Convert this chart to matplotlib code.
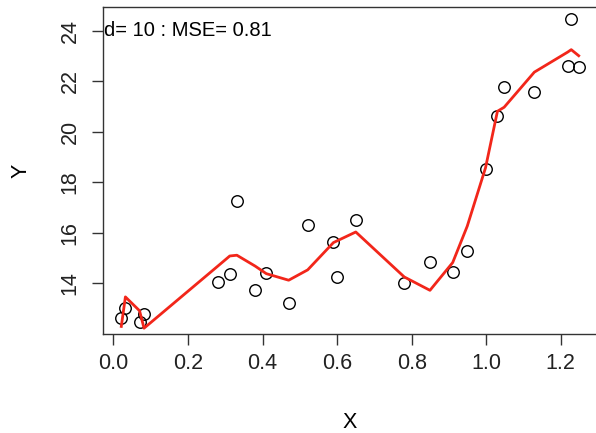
import numpy as np
import matplotlib.pyplot as plt

plt.rcParams['font.family'] = ['Liberation Sans', 'DejaVu Sans']

# observed points
x_obs = [0.021, 0.032, 0.070, 0.082, 0.280, 0.312, 0.331, 0.380, 0.410, 0.470,
         0.521, 0.590, 0.600, 0.650, 0.780, 0.849, 0.910, 0.949, 0.998, 1.030,
         1.048, 1.129, 1.218, 1.228, 1.248]
y_obs = [12.64, 13.01, 12.47, 12.80, 14.03, 14.36, 17.25, 13.74, 14.40, 13.22,
         16.29, 15.65, 14.24, 16.50, 14.01, 14.83, 14.46, 15.26, 18.51, 20.64,
         21.77, 21.57, 22.60, 24.46, 22.57]

# fitted polynomial (degree 10) at the observed x values
y_fit = [12.29, 13.46, 12.91, 12.22, 14.68, 15.08, 15.11, 14.68, 14.38, 14.12,
         14.53, 15.61, 15.68, 16.03, 14.25, 13.72, 14.82, 16.26, 18.57, 20.81,
         20.97, 22.36, 23.15, 23.25, 23.01]

label = "d= 10 : MSE= 0.81"

fig = plt.figure(figsize=(5.96, 4.33), dpi=100)
ax = fig.add_axes([103/596, 1 - 334/433, 494/596, 327/433])

ax.plot(x_obs, y_obs, 'o', mfc='none', mec='black', ms=8.3, mew=1.0)
ax.plot(x_obs, y_fit, color='#f2261a', lw=2.0)

xr = max(x_obs) - min(x_obs)
yr = max(y_obs) - min(y_obs)
ax.set_xlim(min(x_obs) - 0.04 * xr, max(x_obs) + 0.04 * xr)
ax.set_ylim(min(y_obs) - 0.04 * yr, max(y_obs) + 0.04 * yr)

ax.set_xticks([0.0, 0.2, 0.4, 0.6, 0.8, 1.0, 1.2])
ax.set_xticklabels(['0.0', '0.2', '0.4', '0.6', '0.8', '1.0', '1.2'])
ax.set_yticks([14, 16, 18, 20, 22, 24])
ax.set_yticklabels(['14', '16', '18', '20', '22', '24'], rotation=90, va='center')
ax.tick_params(direction='out', length=8, width=1, color='#333333',
               labelsize=15.5, labelcolor='#222222')
ax.tick_params(axis='x', pad=6)
ax.tick_params(axis='y', pad=8)

for s in ax.spines.values():
    s.set_color('#333333')
    s.set_linewidth(1)

ax.set_xlabel('X', fontsize=15.5, labelpad=27)
ax.set_ylabel('Y', fontsize=15.5, labelpad=20)

ax.text(0.002, 24, label, transform=ax.get_yaxis_transform(),
        fontsize=14.5, ha='left', va='center')

fig.savefig('out.png', dpi=100)
